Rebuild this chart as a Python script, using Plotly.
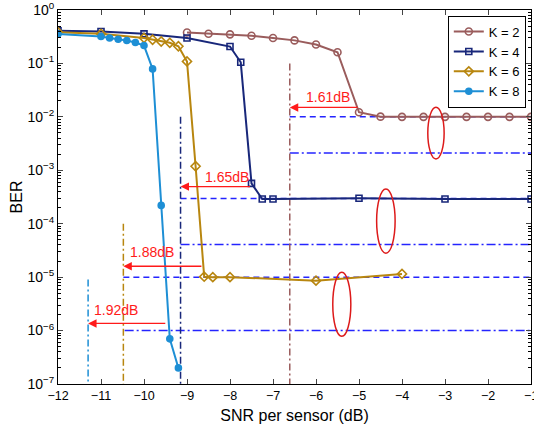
import numpy as np
import plotly.graph_objects as go

FONT = "Liberation Sans, Arial, sans-serif"

# ---- data ----
snr_k2 = [-9, -8.5, -8, -7.5, -7, -6.5, -6, -5.5, -5, -4.5, -4, -3.5, -3, -2.5, -2, -1.5, -1]
ber_k2 = [0.38, 0.36, 0.35, 0.33, 0.30, 0.27, 0.226, 0.162, 0.0122, 0.0101, 0.0100, 0.0100,
          0.0100, 0.0100, 0.0100, 0.0100, 0.0100]

snr_k4 = [-12, -11, -10, -9, -8, -7.75, -7.5, -7.25, -7, -5, -3, -1]
ber_k4 = [0.41, 0.395, 0.358, 0.30, 0.207, 0.105, 5.7e-4, 2.9e-4, 2.9e-4, 3.0e-4, 2.9e-4, 2.9e-4]

snr_k6 = [-12, -11, -10, -9.8, -9.6, -9.4, -9.2, -9.0, -8.8, -8.6, -8.4, -8, -6, -4]
ber_k6 = [0.385, 0.358, 0.30, 0.277, 0.257, 0.243, 0.21, 0.109, 1.19e-3, 1.02e-5, 1.0e-5,
          1.0e-5, 8.6e-6, 1.15e-5]

snr_k8 = [-12, -11, -10.8, -10.6, -10.4, -10.2, -10, -9.8, -9.6, -9.4, -9.2]
ber_k8 = [0.355, 0.32, 0.30, 0.284, 0.268, 0.246, 0.216, 0.079, 2.2e-4, 7.0e-7, 2.0e-7]

series_names = ["K = 2", "K = 4", "K = 6", "K = 8"]
series_colors = ["#9a5c5c", "#18277a", "#b8860f", "#1e8fd5"]

# reference lines: horizontal (ber level, x start, dash)
href_level = [1e-2, 2.1e-3, 2.95e-4, 4.1e-5, 1e-5, 1e-6]
href_start = [-6.61, -6.61, -9.15, -9.15, -10.48, -10.45]
href_style = ["dash", "dashdot", "dash", "dashdot", "dash", "dashdot"]
href_end = -1

# vertical reference lines: x, top ber
vref_x = [-6.61, -9.15, -10.48, -11.3]
vref_top = [0.1, 1e-2, 1e-4, 9e-6]
vref_bottom = 1e-7

# gain arrows: y level, from x, to x, label, label x, label y
gain_y = [0.015, 4.95e-4, 1.6e-5, 1.36e-6]
gain_from = [-5.0, -7.5, -8.63, -9.47]
gain_to = [-6.61, -9.15, -10.48, -11.3]
gain_label = ["1.61dB", "1.65dB", "1.88dB", "1.92dB"]
gain_lx = [-5.72, -8.08, -9.82, -10.66]
gain_ly = [0.0233, 7.4e-4, 2.92e-5, 2.43e-6]

# ellipses: x0, x1, y0, y1
ell_x0 = [-3.4, -4.59, -5.61]
ell_x1 = [-3.02, -4.16, -5.19]
ell_y0 = [0.0151, 4.47e-4, 1.23e-5]
ell_y1 = [1.63e-3, 2.8e-5, 7.8e-7]

xticks = list(range(-12, 0))
yticks_exp = list(range(-7, 1))

# ---- figure ----
fig = go.Figure()

dash_map = {"dash": "6px,4px", "dashdot": "9px,3px,2px,3px"}
for lvl, x0, st in zip(href_level, href_start, href_style):
    fig.add_trace(go.Scatter(x=[x0, href_end], y=[lvl, lvl], mode="lines",
                             line=dict(color="#2424ff", width=1.5, dash=dash_map[st]),
                             showlegend=False, hoverinfo="skip"))
for vx, vt, col in zip(vref_x, vref_top, series_colors):
    fig.add_trace(go.Scatter(x=[vx, vx], y=[vt, vref_bottom], mode="lines",
                             line=dict(color=col, width=1.5, dash="7px,3px,2px,3px"),
                             showlegend=False, hoverinfo="skip"))

symbols = ["circle-open", "square-open", "diamond-open", "circle"]
sizes = [7, 6, 7, 6]
for xs, ys, name, col, sym, sz in zip([snr_k2, snr_k4, snr_k6, snr_k8],
                                      [ber_k2, ber_k4, ber_k6, ber_k8],
                                      series_names, series_colors, symbols, sizes):
    fig.add_trace(go.Scatter(x=xs, y=ys, mode="lines+markers", name=name,
                             line=dict(color=col, width=2),
                             marker=dict(symbol=sym, size=sz, color=col,
                                         line=dict(color=col, width=1.6))))

for x0, x1, y0, y1 in zip(ell_x0, ell_x1, ell_y0, ell_y1):
    fig.add_shape(type="circle", xref="x", yref="y", x0=x0, x1=x1, y0=y0, y1=y1,
                  line=dict(color="#dd1a1a", width=1.5))

for gy, gf, gt, lab, lx, ly in zip(gain_y, gain_from, gain_to, gain_label, gain_lx, gain_ly):
    fig.add_annotation(x=gt, y=np.log10(gy), ax=gf, ay=np.log10(gy), axref="x", ayref="y",
                       xref="x", yref="y", text="", showarrow=True, arrowhead=2,
                       arrowsize=1.3, arrowwidth=1.3, arrowcolor="#ff1a1a", standoff=0)
    fig.add_annotation(x=lx, y=np.log10(ly), xref="x", yref="y", text=lab, showarrow=False,
                       font=dict(family=FONT, size=14, color="#ff1a1a"))

minor_vals = [m * 10.0 ** e for e in range(-7, 0) for m in range(2, 10)]

fig.update_layout(
    width=534, height=424, template="none",
    margin=dict(l=58, r=3, t=10, b=40, autoexpand=False),
    paper_bgcolor="white", plot_bgcolor="white",
    font=dict(family=FONT, size=12, color="black"),
    legend=dict(x=0.989, y=0.985, xanchor="right", yanchor="top",
                bgcolor="white", bordercolor="black", borderwidth=1,
                font=dict(family=FONT, size=13), itemwidth=30,
                tracegroupgap=0),
    xaxis=dict(range=[-12, -1], tickvals=xticks, ticks="inside", ticklen=5,
               showline=True, linecolor="black", linewidth=1, mirror="ticks",
               showgrid=False, zeroline=False, automargin=False,
               ticklabeloverflow="allow",
               tickfont=dict(size=12.5),
               title=dict(text="SNR per sensor (dB)", font=dict(size=16), standoff=8)),
    yaxis=dict(type="log", range=[-7, 0], tickvals=[10.0 ** e for e in yticks_exp],
               ticktext=["10<sup>%s</sup>" % (str(e).replace("-", "\u2212")) for e in yticks_exp],
               ticks="inside", ticklen=5, showline=True, linecolor="black", linewidth=1,
               mirror="ticks", showgrid=False, zeroline=False, automargin=False,
               ticklabeloverflow="allow",
               tickfont=dict(size=14),
               minor=dict(tickvals=minor_vals, ticks="inside", ticklen=3, tickcolor="black",
                          showgrid=False),
               title=dict(text="BER", font=dict(size=16), standoff=0)),
)

fig.write_html("out.html")
